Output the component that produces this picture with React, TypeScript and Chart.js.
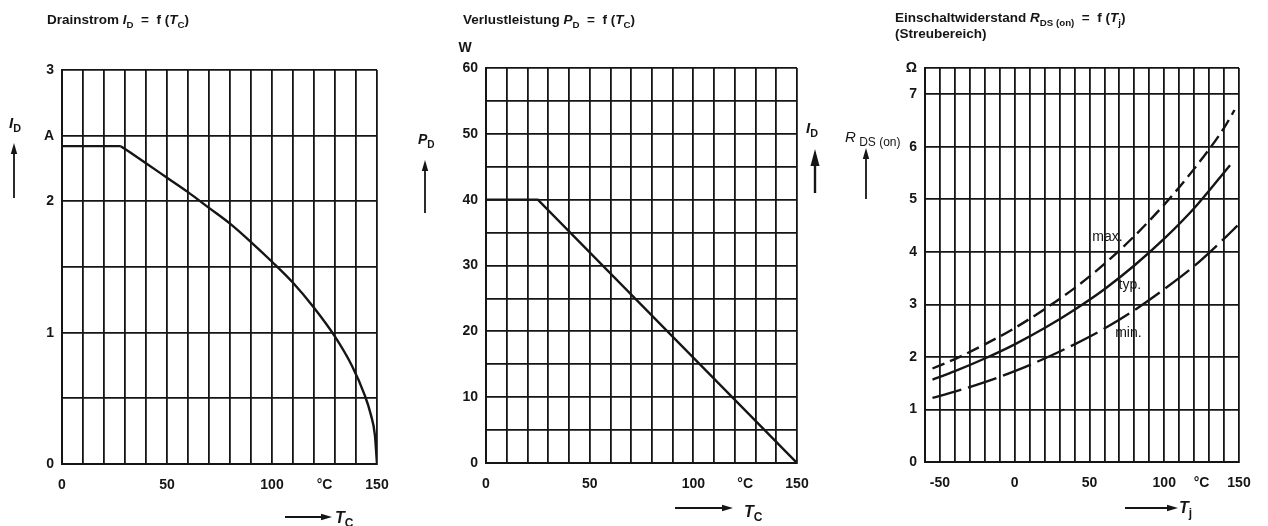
import React, { useEffect, useRef } from 'react';
import { Chart, registerables } from 'chart.js';

Chart.register(...registerables);

const W = 1268;
const H = 526;
const INK = '#151515';
const FONT = '"Liberation Sans", Arial, Helvetica, sans-serif';
const AXIS_BOX = 40;

// ---------- Chart 1: Drainstrom I_D = f(T_C) ----------
const idPlateauT = [0, 28];
const idPlateauA = [2.42, 2.42];
const idCurveT = [28, 40, 50, 60, 70, 80, 90, 100, 110, 120, 130, 138, 144, 147, 149, 150];
const idCurveA = [2.42, 2.29, 2.18, 2.07, 1.95, 1.83, 1.69, 1.54, 1.38, 1.19, 0.97, 0.75, 0.53, 0.38, 0.22, 0];
const idYGrid = [0, 0.5, 1, 1.5, 2, 2.5, 3];
const idYLabels: [number, string][] = [[0, '0'], [1, '1'], [2, '2'], [2.5, 'A'], [3, '3']];

// ---------- Chart 2: Verlustleistung P_D = f(T_C) ----------
const pdT = [0, 25, 150];
const pdW = [40, 40, 0];
const pdYGrid = [0, 5, 10, 15, 20, 25, 30, 35, 40, 45, 50, 55, 60];
const pdYLabels: [number, string][] = [[0, '0'], [10, '10'], [20, '20'], [30, '30'], [40, '40'], [50, '50'], [60, '60']];

// shared T_C axis (charts 1 and 2)
const tcGrid = [0, 10, 20, 30, 40, 50, 60, 70, 80, 90, 100, 110, 120, 130, 140, 150];
const tcLabels: [number, string][] = [[0, '0'], [50, '50'], [100, '100'], [125, '°C'], [150, '150']];

// ---------- Chart 3: Einschaltwiderstand R_DS(on) = f(T_j) ----------
const rMaxT = [-55, -40, -20, 0, 20, 40, 60, 80, 100, 120, 140, 147];
const rMax = [1.78, 1.96, 2.24, 2.55, 2.91, 3.31, 3.77, 4.3, 4.9, 5.58, 6.36, 6.7];
const rTypT = [-55, -40, -20, 0, 20, 40, 60, 80, 100, 120, 144];
const rTyp = [1.57, 1.73, 1.97, 2.24, 2.55, 2.9, 3.29, 3.74, 4.25, 4.83, 5.65];
const rMinT = [-55, -40, -20, 0, 20, 40, 60, 80, 100, 120, 140, 149];
const rMin = [1.22, 1.34, 1.52, 1.73, 1.97, 2.24, 2.54, 2.89, 3.29, 3.73, 4.25, 4.5];
const rCurveNames = ['max.', 'typ.', 'min.'];
const rNameT = [62, 77, 76];
const rNameR = [4.28, 3.37, 2.46];
const tjGrid = [-60, -50, -40, -30, -20, -10, 0, 10, 20, 30, 40, 50, 60, 70, 80, 90, 100, 110, 120, 130, 140, 150];
const tjLabels: [number, string][] = [[-50, '-50'], [0, '0'], [50, '50'], [100, '100'], [125, '°C'], [150, '150']];
const rYGrid = [0, 1, 2, 3, 4, 5, 6, 7, 7.5];
const rYLabels: [number, string][] = [[0, '0'], [1, '1'], [2, '2'], [3, '3'], [4, '4'], [5, '5'], [6, '6'], [7, '7'], [7.5, 'Ω']];

// ---------- helpers ----------
const zip = (xs: number[], ys: number[]) => xs.map((x, i) => ({ x, y: ys[i] }));

type Run = { t: string; i?: boolean; sub?: boolean; w?: string; s?: number };

function drawRuns(ctx: CanvasRenderingContext2D, x: number, y: number, runs: Run[], size: number, weight = 'bold') {
  let cx = x;
  ctx.fillStyle = INK;
  ctx.textBaseline = 'alphabetic';
  ctx.textAlign = 'left';
  for (const r of runs) {
    const s = r.s ?? (r.sub ? size * 0.72 : size);
    ctx.font = `${r.i ? 'italic ' : ''}${r.w ?? weight} ${s}px ${FONT}`;
    ctx.fillText(r.t, cx, y + (r.sub ? size * 0.28 : 0));
    cx += ctx.measureText(r.t).width;
  }
}

function arrow(ctx: CanvasRenderingContext2D, x1: number, y1: number, x2: number, y2: number, head = 11, halfW = 3.2, lw = 1.8) {
  const a = Math.atan2(y2 - y1, x2 - x1);
  const bx = x2 - head * Math.cos(a);
  const by = y2 - head * Math.sin(a);
  ctx.strokeStyle = INK;
  ctx.fillStyle = INK;
  ctx.lineWidth = lw;
  ctx.beginPath();
  ctx.moveTo(x1, y1);
  ctx.lineTo(bx, by);
  ctx.stroke();
  ctx.beginPath();
  ctx.moveTo(x2, y2);
  ctx.lineTo(bx - halfW * Math.sin(a), by + halfW * Math.cos(a));
  ctx.lineTo(bx + halfW * Math.sin(a), by - halfW * Math.cos(a));
  ctx.closePath();
  ctx.fill();
}

interface AxisSpec {
  min: number;
  max: number;
  grid: number[];
  labels: [number, string][];
}

function axisOpts(a: AxisSpec, axis: 'x' | 'y') {
  const gridSet = new Set(a.grid);
  const labelMap = new Map(a.labels);
  const all = Array.from(new Set([...a.grid, ...a.labels.map((l) => l[0])])).sort((p, q) => p - q);
  return {
    type: 'linear',
    min: a.min,
    max: a.max,
    afterBuildTicks: (scale: any) => {
      scale.ticks = all.map((v) => ({ value: v }));
    },
    afterFit: (scale: any) => {
      if (axis === 'x') scale.height = AXIS_BOX;
      else scale.width = AXIS_BOX;
    },
    grid: {
      color: (c: any) => (c.tick && gridSet.has(c.tick.value) ? INK : 'rgba(0,0,0,0)'),
      lineWidth: 1.8,
      drawTicks: false,
    },
    border: { display: true, color: INK, width: 2 },
    ticks: {
      autoSkip: false,
      maxRotation: 0,
      minRotation: 0,
      padding: axis === 'x' ? 13 : 8,
      color: INK,
      font: { family: FONT, size: 14, weight: 'bold' },
      callback: (v: number) => labelMap.get(v) ?? '',
    },
  };
}

interface PanelSpec {
  id: string;
  plot: { l: number; t: number; r: number; b: number };
  x: AxisSpec;
  y: AxisSpec;
  datasets: any[];
  decorate: (ctx: CanvasRenderingContext2D, chart: any) => void;
}

function buildConfig(p: PanelSpec): any {
  return {
    type: 'line',
    data: { datasets: p.datasets },
    options: {
      responsive: false,
      animation: false,
      events: [],
      layout: {
        padding: {
          left: p.plot.l - AXIS_BOX,
          top: p.plot.t,
          right: W - p.plot.r,
          bottom: H - p.plot.b - AXIS_BOX,
        },
      },
      plugins: { legend: { display: false }, tooltip: { enabled: false } },
      scales: { x: axisOpts(p.x, 'x'), y: axisOpts(p.y, 'y') },
    },
    plugins: [
      {
        id: 'decor-' + p.id,
        afterDraw(chart: any) {
          const ctx = chart.ctx as CanvasRenderingContext2D;
          ctx.save();
          p.decorate(ctx, chart);
          ctx.restore();
        },
      },
    ],
  };
}

const lineStyle = { borderColor: INK, borderWidth: 2.4, pointRadius: 0, fill: false };

const panels: PanelSpec[] = [
  {
    id: 'id',
    plot: { l: 62, t: 70, r: 377, b: 464 },
    x: { min: 0, max: 150, grid: tcGrid, labels: tcLabels },
    y: { min: 0, max: 3, grid: idYGrid, labels: idYLabels },
    datasets: [
      { ...lineStyle, data: zip(idPlateauT, idPlateauA), tension: 0 },
      { ...lineStyle, data: zip(idCurveT, idCurveA), cubicInterpolationMode: 'monotone' },
    ],
    decorate: (ctx) => {
      drawRuns(ctx, 47, 24, [{ t: 'Drainstrom ' }, { t: 'I', i: true }, { t: 'D', sub: true }, { t: '  =  f (' }, { t: 'T', i: true }, { t: 'C', sub: true }, { t: ')' }], 13.5);
      drawRuns(ctx, 9, 128, [{ t: 'I', i: true }, { t: 'D', sub: true }], 15);
      arrow(ctx, 14, 198, 14, 143);
      arrow(ctx, 285, 517, 332, 517);
      drawRuns(ctx, 335, 523, [{ t: 'T', i: true }, { t: 'C', sub: true, s: 12 }], 16);
    },
  },
  {
    id: 'pd',
    plot: { l: 486, t: 68, r: 797, b: 463 },
    x: { min: 0, max: 150, grid: tcGrid, labels: tcLabels },
    y: { min: 0, max: 60, grid: pdYGrid, labels: pdYLabels },
    datasets: [{ ...lineStyle, data: zip(pdT, pdW), tension: 0 }],
    decorate: (ctx) => {
      drawRuns(ctx, 463, 24, [{ t: 'Verlustleistung ' }, { t: 'P', i: true }, { t: 'D', sub: true }, { t: '  =  f (' }, { t: 'T', i: true }, { t: 'C', sub: true }, { t: ')' }], 13.5);
      ctx.font = `bold 14px ${FONT}`;
      ctx.textAlign = 'center';
      ctx.textBaseline = 'middle';
      ctx.fillStyle = INK;
      ctx.fillText('W', 465, 48);
      drawRuns(ctx, 418, 144, [{ t: 'P', i: true }, { t: 'D', sub: true }], 14);
      arrow(ctx, 425, 213, 425, 160);
      drawRuns(ctx, 806, 133, [{ t: 'I', i: true }, { t: 'D', sub: true }], 15);
      arrow(ctx, 815, 193, 815, 149, 17, 4.5, 2.4);
      arrow(ctx, 675, 508, 733, 508);
      drawRuns(ctx, 744, 517, [{ t: 'T', i: true }, { t: 'C', sub: true, s: 12 }], 16);
    },
  },
  {
    id: 'rds',
    plot: { l: 925, t: 68, r: 1239, b: 462 },
    x: { min: -60, max: 150, grid: tjGrid, labels: tjLabels },
    y: { min: 0, max: 7.5, grid: rYGrid, labels: rYLabels },
    datasets: [
      { ...lineStyle, data: zip(rMaxT, rMax), cubicInterpolationMode: 'monotone', borderDash: [13, 6] },
      { ...lineStyle, data: zip(rTypT, rTyp), cubicInterpolationMode: 'monotone' },
      { ...lineStyle, data: zip(rMinT, rMin), cubicInterpolationMode: 'monotone', borderDash: [30, 7] },
    ],
    decorate: (ctx, chart) => {
      drawRuns(ctx, 895, 22, [{ t: 'Einschaltwiderstand ' }, { t: 'R', i: true }, { t: 'DS (on)', sub: true }, { t: '  =  f (' }, { t: 'T', i: true }, { t: 'j', sub: true }, { t: ')' }], 13.5);
      drawRuns(ctx, 895, 38, [{ t: '(Streubereich)' }], 13.5);
      drawRuns(ctx, 845, 142, [{ t: 'R', i: true }, { t: ' DS (on)', s: 12, sub: true }], 15, 'normal');
      arrow(ctx, 866, 199, 866, 148);
      arrow(ctx, 1125, 508, 1178, 508);
      drawRuns(ctx, 1179, 513, [{ t: 'T', i: true }, { t: 'j', sub: true, s: 12 }], 16);
      const xs = chart.scales.x;
      const ys = chart.scales.y;
      ctx.font = `14px ${FONT}`;
      ctx.textAlign = 'center';
      ctx.textBaseline = 'middle';
      ctx.fillStyle = INK;
      rCurveNames.forEach((name, i) => {
        ctx.fillText(name, xs.getPixelForValue(rNameT[i]), ys.getPixelForValue(rNameR[i]));
      });
    },
  },
];

function Panel({ spec }: { spec: PanelSpec }) {
  const ref = useRef<HTMLCanvasElement>(null);
  useEffect(() => {
    const chart = new Chart(ref.current as HTMLCanvasElement, buildConfig(spec));
    return () => chart.destroy();
  }, [spec]);
  return (
    <canvas
      ref={ref}
      width={W}
      height={H}
      style={{ position: 'absolute', left: 0, top: 0, width: W, height: H }}
    />
  );
}

export default function App() {
  return (
    <div style={{ position: 'fixed', left: 0, top: 0, width: W, height: H, background: '#ffffff', overflow: 'hidden' }}>
      {panels.map((p) => (
        <Panel key={p.id} spec={p} />
      ))}
    </div>
  );
}
